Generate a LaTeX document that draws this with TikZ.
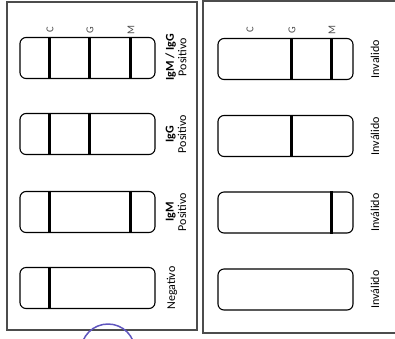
\documentclass[tikz,border=0pt]{standalone}
\usepackage{fontspec}
\setmainfont{Carlito}
\usetikzlibrary{positioning}

\begin{document}
\begin{tikzpicture}[
    x=1pt, y=-1pt,
    panel/.style={draw=black!70, line width=1.5pt},
    strip/.style={rectangle, draw, line width=1.1pt, rounded corners=6pt, minimum width=135pt, minimum height=41pt, inner sep=0pt},
    band/.style={draw, line width=2.2pt},
    linelabel/.style={rotate=90, font=\fontsize{10.5}{10.5}\selectfont, text=black!70, inner sep=0pt},
    result/.style={rotate=90, align=center, font=\fontsize{12}{12.5}\selectfont, inner sep=0pt},
    stamp/.style={draw={rgb,255:red,95;green,85;blue,190}, line width=1.5pt}
]
\useasboundingbox (0,0) rectangle (395,338);

% Panels
\draw[panel] (7,2) rectangle (197,330);
\draw[panel] (203,1) rectangle (397,333);

% Left strips
\node[strip] (la) at (87.5,58) {};
\node[strip] (lb) at (87.5,134) {};
\node[strip] (lc) at (87.5,212) {};
\node[strip] (ld) at (87.5,288) {};

% Left line labels
\node[linelabel] (lC) at (50,30) {C};
\node[linelabel] (lG) at (90,30) {G};
\node[linelabel] (lM) at (131,30) {M};

% Left bands
\draw[band] ([xshift=30pt]la.north west) -- ([xshift=30pt]la.south west);
\draw[band] ([xshift=70pt]la.north west) -- ([xshift=70pt]la.south west);
\draw[band] ([xshift=111pt]la.north west) -- ([xshift=111pt]la.south west);
\draw[band] ([xshift=30pt]lb.north west) -- ([xshift=30pt]lb.south west);
\draw[band] ([xshift=70pt]lb.north west) -- ([xshift=70pt]lb.south west);
\draw[band] ([xshift=30pt]lc.north west) -- ([xshift=30pt]lc.south west);
\draw[band] ([xshift=111pt]lc.north west) -- ([xshift=111pt]lc.south west);
\draw[band] ([xshift=30pt]ld.north west) -- ([xshift=30pt]ld.south west);

% Left results
\node[result] (ra) at (176,57) {\textbf{IgM / IgG}\\Positivo};
\node[result] (rb) at (176,134) {\textbf{IgG}\\Positivo};
\node[result] (rc) at (176,212) {\textbf{IgM}\\Positivo};
\node[result] (rd) at (172,288) {Negativo};

% Right strips
\node[strip] (sa) at (285.5,59) {};
\node[strip] (sb) at (285.5,136) {};
\node[strip] (sc) at (285.5,212.5) {};
\node[strip] (sd) at (285.5,289.5) {};

% Right line labels
\node[linelabel] (sC) at (250,30) {C};
\node[linelabel] (sG) at (292,30) {G};
\node[linelabel] (sM) at (332,30) {M};

% Right bands
\draw[band] ([xshift=74pt]sa.north west) -- ([xshift=74pt]sa.south west);
\draw[band] ([xshift=114pt]sa.north west) -- ([xshift=114pt]sa.south west);
\draw[band] ([xshift=74pt]sb.north west) -- ([xshift=74pt]sb.south west);
\draw[band] ([xshift=114pt]sc.north west) -- ([xshift=114pt]sc.south west);

% Right results
\node[result] (ta) at (375,59) {Invalido};
\node[result] (tb) at (375,136) {Inválido};
\node[result] (tc) at (375,212.5) {Inválido};
\node[result] (td) at (375,289.5) {Inválido};

% Stamp
\draw[stamp] (108,351) circle (27);

\end{tikzpicture}
\end{document}
